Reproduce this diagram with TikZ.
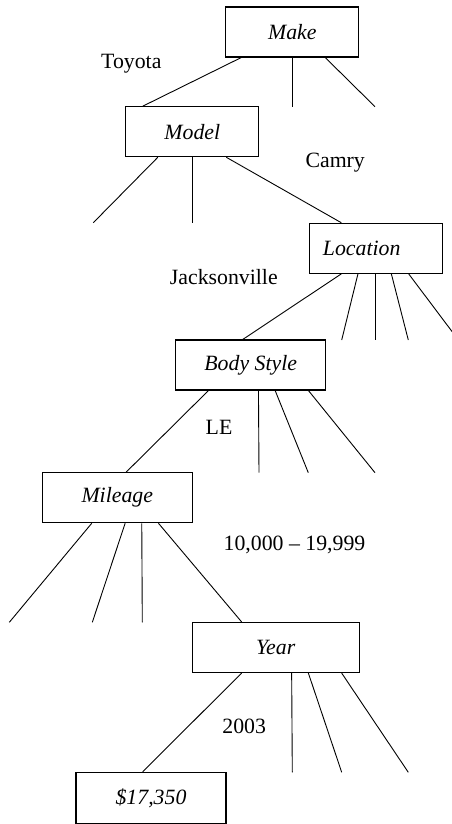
\documentclass[tikz,border=0pt]{standalone}
\usepackage{fontspec}
\setmainfont{Liberation Serif}
\begin{document}
\begin{tikzpicture}[x=1pt,y=-1pt,
  box/.style={draw,line width=1.1pt,rectangle,inner sep=0pt,minimum height=50pt,font=\fontsize{21.8}{26}\selectfont\itshape},
  lbl/.style={anchor=base,inner sep=0pt,font=\fontsize{21.8}{26}\selectfont},
  ln/.style={line width=0.9pt}]
\useasboundingbox (0,0) rectangle (451,824);
% boxes
\node[box,minimum width=133pt] (make) at (292.3,32) {Make};
\node[box,minimum width=133pt] (model) at (192.3,131.7) {Model};
\node[box,minimum width=133pt] (loc) at (375.7,248.3) {Location\hspace*{28pt}};
\node[box,minimum width=150pt] (body) at (250.7,365) {Body Style};
\node[box,minimum width=150pt] (mile) at (117.3,497.7) {Mileage};
\node[box,minimum width=167pt] (year) at (275.7,647.5) {Year};
\node[box,minimum width=150pt,minimum height=51pt] (price) at (151,797.8) {\$17,350};
% labels
\node[lbl] (toyota) at (131.3,68.3) {Toyota};
\node[lbl] (camry) at (335.2,167.7) {Camry};
\node[lbl] (jack) at (223.8,284) {Jacksonville};
\node[lbl] (le) at (219,434) {LE};
\node[lbl] (mil) at (294.5,550) {10,000 -- 19,999};
\node[lbl] (yr) at (244.2,733.3) {2003};
% free ends
\coordinate (m2) at (292.3,106.7);
\coordinate (m3) at (375,106.7);
\coordinate (d1) at (93.3,222.7);
\coordinate (d2) at (192.3,222.7);
\coordinate (l2) at (341.7,340);
\coordinate (l3) at (375.7,340);
\coordinate (l4) at (408.3,340);
\coordinate (l5) at (458.4,340);
\coordinate (b2) at (259,472.7);
\coordinate (b3) at (308.3,472.7);
\coordinate (b4) at (375,472.7);
\coordinate (k1) at (9.3,622.3);
\coordinate (k2) at (92.3,622.3);
\coordinate (k3) at (142.3,622.3);
\coordinate (y2) at (292.3,772.3);
\coordinate (y3) at (341.7,772.3);
\coordinate (y4) at (408.3,772.3);
% make
\draw[ln] ([xshift=16pt]make.south west) -- ([xshift=17.6pt]model.north west);
\draw[ln] (make.south) -- (m2);
\draw[ln] ([xshift=100pt]make.south west) -- (m3);
% model
\draw[ln] ([xshift=32.6pt]model.south west) -- (d1);
\draw[ln] (model.south) -- (d2);
\draw[ln] ([xshift=101pt]model.south west) -- ([xshift=32.7pt]loc.north west);
% location
\draw[ln] ([xshift=32.7pt]loc.south west) -- ([xshift=67.6pt]body.north west);
\draw[ln] ([xshift=49.3pt]loc.south west) -- (l2);
\draw[ln] (loc.south) -- (l3);
\draw[ln] ([xshift=82.7pt]loc.south west) -- (l4);
\draw[ln] ([xshift=100pt]loc.south west) -- (l5);
% body style
\draw[ln] ([xshift=33.3pt]body.south west) -- ([xshift=84.4pt]mile.north west);
\draw[ln] ([xshift=83.3pt]body.south west) -- (b2);
\draw[ln] ([xshift=100pt]body.south west) -- (b3);
\draw[ln] ([xshift=133.3pt]body.south west) -- (b4);
% mileage
\draw[ln] ([xshift=50pt]mile.south west) -- (k1);
\draw[ln] ([xshift=83.4pt]mile.south west) -- (k2);
\draw[ln] ([xshift=100pt]mile.south west) -- (k3);
\draw[ln] ([xshift=116.7pt]mile.south west) -- ([xshift=50pt]year.north west);
% year
\draw[ln] ([xshift=50pt]year.south west) -- ([xshift=67.3pt]price.north west);
\draw[ln] ([xshift=100pt]year.south west) -- (y2);
\draw[ln] ([xshift=116.7pt]year.south west) -- (y3);
\draw[ln] ([xshift=150pt]year.south west) -- (y4);
\end{tikzpicture}
\end{document}
